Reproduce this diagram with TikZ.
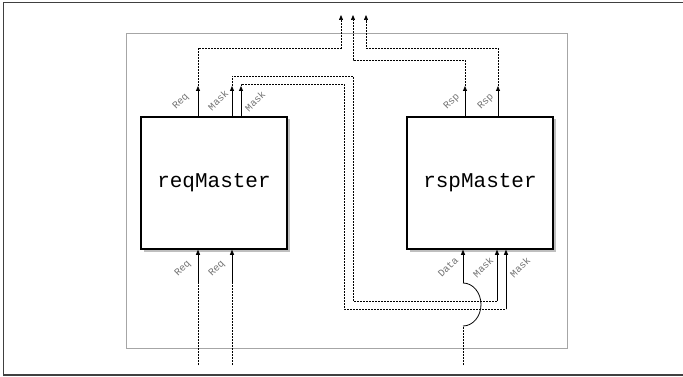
\documentclass[tikz,border=0pt]{standalone}
\usepackage{fontspec}
\setmonofont{Liberation Mono}
\usetikzlibrary{arrows.meta}
\begin{document}
\begin{tikzpicture}[x=1pt,y=-1pt,
  master/.style={draw=black, line width=1.5pt, fill=white, minimum width=146pt, minimum height=132pt, inner sep=0pt, font=\ttfamily\fontsize{21}{21}\selectfont},
  shadowbox/.style={fill=black!25},
  port/.style={-{Triangle[length=5pt,width=4pt]}, line width=0.8pt},
  wire/.style={dash pattern=on 2pt off 1pt, line width=0.7pt},
  wirearrow/.style={wire, -{Triangle[length=5pt,width=4pt]}},
  plabel/.style={rotate=45, font=\ttfamily\fontsize{10}{10}\selectfont, text=black!55, inner sep=0pt}
]
\useasboundingbox (0,0) rectangle (683,377);
% frames
\draw[black!75, line width=1.2pt] (684,2.5) -- (3.5,2.5) -- (3.5,375) -- (684,375);
\draw[black!35, line width=1pt] (126,34) rectangle (567,348);
% shadows
\fill[shadowbox] (143.5,119.5) rectangle (289.5,251.5);
\fill[shadowbox] (409.5,119.5) rectangle (555.5,251.5);
% masters
\node[master] (req) at (214,183) {reqMaster};
\node[master] (rsp) at (480,183) {rspMaster};
% port coordinates
\coordinate (qoReq) at (198,86);
\coordinate (qoM1) at (232,86);
\coordinate (qoM2) at (241,86);
\coordinate (qiR1) at (198,283);
\coordinate (qiR2) at (232,283);
\coordinate (soR1) at (465,86);
\coordinate (soR2) at (498,86);
\coordinate (siD) at (463,283);
\coordinate (siDlow) at (463,326);
\coordinate (siM1) at (497,301);
\coordinate (siM2) at (506,309);
\coordinate (out1) at (341,15);
\coordinate (out2) at (353,15);
\coordinate (out3) at (366,15);
\coordinate (in1) at (198,365);
\coordinate (in2) at (232,365);
\coordinate (in3) at (463,365);
% reqMaster top ports
\draw[port] (req.north -| qoReq) -- (qoReq);
\draw[port] (req.north -| qoM1) -- (qoM1);
\draw[port] (req.north -| qoM2) -- (qoM2);
% reqMaster bottom ports
\draw[port] (qiR1) -- (req.south -| qiR1);
\draw[port] (qiR2) -- (req.south -| qiR2);
\draw[wire] (in1) -- (qiR1);
\draw[wire] (in2) -- (qiR2);
% rspMaster top ports
\draw[port] (rsp.north -| soR1) -- (soR1);
\draw[port] (rsp.north -| soR2) -- (soR2);
% rspMaster bottom ports
\draw[port] (siD) -- (rsp.south -| siD);
\draw[port] (siM1) -- (rsp.south -| siM1);
\draw[port] (siM2) -- (rsp.south -| siM2);
% wires to the top
\draw[wirearrow] (qoReq) |- (341,48) -- (out1);
\draw[wirearrow] (soR1) |- (353,60) -- (out2);
\draw[wirearrow] (soR2) |- (366,48) -- (out3);
% mask wires
\draw[wire] (qoM1) |- (353,76) -- (353,301) -- (siM1);
\draw[wire] (qoM2) |- (344,84) -- (344,309) -- (siM2);
% data input with hop
\draw[line width=0.8pt] (siD) arc[start angle=90, end angle=-90, x radius=18pt, y radius=21.5pt];
\draw[wire] (in3) -- (siDlow);
% labels
\node[plabel] at (181,102) {Req};
\node[plabel] at (218,100) {Mask};
\node[plabel] at (255,101) {Mask};
\node[plabel] at (452,102) {Rsp};
\node[plabel] at (486,102) {Rsp};
\node[plabel] at (183,269) {Req};
\node[plabel] at (217,269) {Req};
\node[plabel] at (448,267) {Data};
\node[plabel] at (483,267) {Mask};
\node[plabel] at (520,267) {Mask};
\end{tikzpicture}
\end{document}
